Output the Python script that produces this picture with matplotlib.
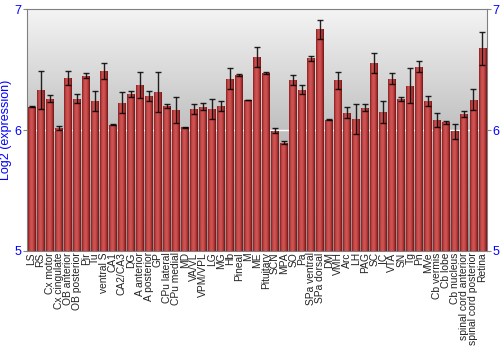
import numpy as np
import matplotlib
matplotlib.use("Agg")
import matplotlib.pyplot as plt
from matplotlib.colors import LinearSegmentedColormap

# Data
regions = ["LS", "RS", "Cx motor", "Cx cingulate", "OB anterior", "OB posterior",
           "Pir", "Tu", "ventral S", "CA1", "CA2/CA3", "DG", "A anterior",
           "A posterior", "GP", "CPu lateral", "CPu medial", "MD", "VA/VL",
           "VPM/VPL", "LG", "MG", "Hb", "Pineal", "M", "ME", "Pituitary", "SCN",
           "MPA", "SO", "Pa", "SPa ventral", "SPa dorsal", "DM", "VMH", "Arc",
           "LH", "PAG", "SC", "IC", "VTA", "SN", "Tg", "Pn", "MVe", "Cb vermis",
           "Cb lobe", "Cb nucleus", "spinal cord anterior",
           "spinal cord posterior", "Retina"]
expression = [6.196, 6.332, 6.262, 6.019, 6.434, 6.260, 6.453, 6.243, 6.490,
              6.047, 6.227, 6.299, 6.373, 6.285, 6.315, 6.199, 6.166, 6.025,
              6.177, 6.196, 6.177, 6.199, 6.428, 6.461, 6.251, 6.603, 6.474,
              5.997, 5.898, 6.416, 6.336, 6.595, 6.835, 6.088, 6.413, 6.143,
              6.093, 6.184, 6.556, 6.151, 6.428, 6.259, 6.370, 6.526, 6.242,
              6.085, 6.066, 5.992, 6.135, 6.254, 6.677]
error = [0.008, 0.160, 0.030, 0.017, 0.060, 0.037, 0.020, 0.080, 0.065, 0.005,
         0.087, 0.023, 0.110, 0.040, 0.166, 0.014, 0.106, 0.003, 0.040, 0.028,
         0.082, 0.039, 0.089, 0.008, 0.003, 0.083, 0.010, 0.024, 0.015, 0.039,
         0.037, 0.023, 0.079, 0.003, 0.069, 0.046, 0.124, 0.029, 0.083, 0.091,
         0.044, 0.014, 0.141, 0.044, 0.039, 0.061, 0.012, 0.061, 0.026, 0.087,
         0.140]

plt.rcParams['font.family'] = ['Liberation Sans', 'DejaVu Sans']

fig = plt.figure(figsize=(5, 3.5), dpi=100)
ax = fig.add_axes([0.054, 0.283, 0.92, 0.69])

x = np.arange(len(regions))
base = 5

# gray gradient background, light at the top
bg = np.linspace(0, 1, 256).reshape(-1, 1)
bg_cmap = LinearSegmentedColormap.from_list("bg", ["#f4f4f4", "#8c8c8c"])
ax.imshow(bg, cmap=bg_cmap, extent=[-0.5, len(regions) - 0.5, 5, 7],
          aspect='auto', zorder=0, origin='upper')
ax.axhline(6, color="white", lw=1, zorder=1)

bars = ax.bar(x, np.array(expression) - base, bottom=base, width=0.88,
              color="#b83535", zorder=2)

# cylinder-like shading on each bar
bar_cmap = LinearSegmentedColormap.from_list(
    "bar", ["#862020", "#c84a4a", "#d05656", "#b63a3a", "#721414"])
grad = np.linspace(0, 1, 64).reshape(1, -1)
for b in bars:
    x0, y0 = b.get_x(), b.get_y()
    im = ax.imshow(grad, cmap=bar_cmap, aspect='auto', zorder=3,
                   extent=[x0, x0 + b.get_width(), y0, y0 + b.get_height()])
    im.set_clip_path(b)

ax.errorbar(x, expression, yerr=error, fmt='none', ecolor='black',
            elinewidth=1, capsize=2.2, capthick=1, alpha=0.85, zorder=4)

ax.set_xlim(-0.5, len(regions) - 0.5)
ax.set_ylim(5, 7)

ax.set_xticks(x)
ax.set_xticklabels(regions, rotation=90, fontsize=7.4, color="#222222")
ax.tick_params(axis='x', length=0, pad=1)

ax.set_yticks([5, 6, 7])
ax.tick_params(axis='y', colors="#888888", labelcolor="blue", labelsize=9,
               length=3, labelright=True, right=True, pad=1)
ax.set_ylabel("Log2 (expression)", color="blue", fontsize=9, labelpad=2)

for s in ax.spines.values():
    s.set_color("#808080")

fig.savefig("out.png", dpi=100)
